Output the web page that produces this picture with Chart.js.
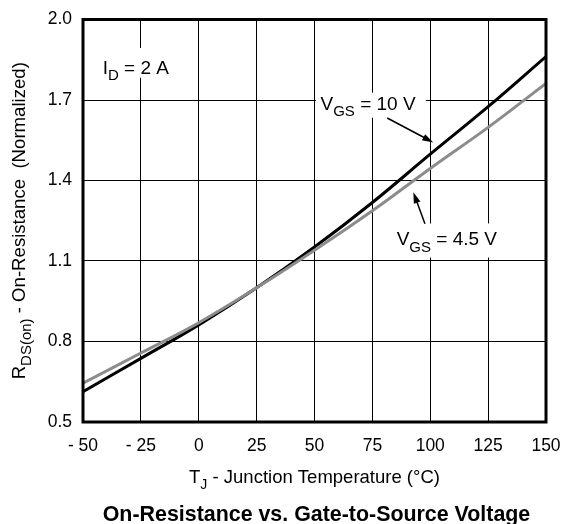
<!DOCTYPE html>
<html><head><meta charset="utf-8">
<script src="https://cdn.jsdelivr.net/npm/chart.js@4"></script>
<style>html,body{margin:0;padding:0;background:#fff}#wrap{width:564px;height:524px}</style>
</head><body><div id="wrap"><canvas id="c" width="564" height="524"></canvas></div>
<script>
// ---- data ----
const temps = [-50, -25, 0, 25, 50, 75, 100, 125, 150];
const rdsVgs10 = [0.613, 0.737, 0.862, 1.000, 1.152, 1.318, 1.498, 1.675, 1.862];
const rdsVgs45 = [0.645, 0.757, 0.870, 1.000, 1.140, 1.287, 1.445, 1.598, 1.762];
const xTickLabels = ['- 50', '- 25', '0', '25', '50', '75', '100', '125', '150'];
const yTickLabels = ['0.5', '0.8', '1.1', '1.4', '1.7', '2.0'];
const seriesNames = ['VGS = 10 V', 'VGS = 4.5 V'];

const FONT = '"Liberation Sans", Arial, sans-serif';

function drawRich(ctx, parts, x, y, size, align) {
  let w = 0;
  const subSize = Math.round(size * 0.78);
  parts.forEach(p => {
    ctx.font = (p.sub ? subSize : size) + 'px ' + FONT;
    p.w = ctx.measureText(p.t).width; w += p.w;
  });
  let cx = align === 'center' ? x - w / 2 : x;
  ctx.textBaseline = 'alphabetic';
  ctx.textAlign = 'left';
  parts.forEach(p => {
    ctx.font = (p.sub ? subSize : size) + 'px ' + FONT;
    ctx.fillText(p.t, cx, y + (p.sub ? size * 0.32 : 0));
    cx += p.w;
  });
  return w;
}

const annot = {
  id: 'annot',
  beforeDatasetsDraw(chart) {
    const {ctx, scales: {x, y}} = chart;
    ctx.save();
    ctx.fillStyle = '#fff';
    const boxes = [[-44, -12, 1.894, 1.783], [50.6, 98.1, 1.727, 1.634], [84.8, 128, 1.240, 1.113]];
    boxes.forEach(b => {
      const x0 = x.getPixelForValue(b[0]), x1 = x.getPixelForValue(b[1]);
      const y0 = y.getPixelForValue(b[2]), y1 = y.getPixelForValue(b[3]);
      ctx.fillRect(x0, y0, x1 - x0, y1 - y0);
    });
    ctx.restore();
  },
  afterDatasetsDraw(chart) {
    const {ctx, chartArea: a, scales: {x, y}} = chart;
    ctx.save();
    ctx.fillStyle = '#000';
    ctx.strokeStyle = '#000';
    drawRich(ctx, [{t: 'I'}, {t: 'D', sub: true}, {t: ' = 2 A'}], x.getPixelForValue(-41.5), y.getPixelForValue(1.798), 19, 'left');
    drawRich(ctx, [{t: 'V'}, {t: 'GS', sub: true}, {t: ' = 10 V'}], x.getPixelForValue(52.6), y.getPixelForValue(1.664), 19, 'left');
    drawRich(ctx, [{t: 'V'}, {t: 'GS', sub: true}, {t: ' = 4.5 V'}], x.getPixelForValue(85.5), y.getPixelForValue(1.158), 19, 'left');
    function arrow(t0, v0, t1, v1) {
      const x0 = x.getPixelForValue(t0), y0 = y.getPixelForValue(v0);
      const x1 = x.getPixelForValue(t1), y1 = y.getPixelForValue(v1);
      const ang = Math.atan2(y1 - y0, x1 - x0);
      const L = 11, W = 3.5;
      ctx.lineWidth = 1.5;
      ctx.beginPath(); ctx.moveTo(x0, y0);
      ctx.lineTo(x1 - Math.cos(ang) * L * 0.8, y1 - Math.sin(ang) * L * 0.8); ctx.stroke();
      ctx.beginPath();
      ctx.moveTo(x1, y1);
      ctx.lineTo(x1 - Math.cos(ang) * L - Math.sin(ang) * W, y1 - Math.sin(ang) * L + Math.cos(ang) * W);
      ctx.lineTo(x1 - Math.cos(ang) * L + Math.sin(ang) * W, y1 - Math.sin(ang) * L - Math.cos(ang) * W);
      ctx.closePath(); ctx.fill();
    }
    arrow(81.4, 1.633, 101.3, 1.542);
    arrow(97.7, 1.239, 92.7, 1.356);
    ctx.lineWidth = 3;
    ctx.strokeRect(a.left, a.top, a.right - a.left, a.bottom - a.top);
    const cxm = (a.left + a.right) / 2;
    drawRich(ctx, [{t: 'T'}, {t: 'J', sub: true}, {t: ' - Junction Temperature (°C)'}], cxm, 483, 18.5, 'center');
    ctx.save();
    ctx.translate(25, (a.top + a.bottom) / 2);
    ctx.rotate(-Math.PI / 2);
    drawRich(ctx, [{t: 'R'}, {t: 'DS(on)', sub: true}, {t: ' - On-Resistance  (Normalized)'}], 0, 0, 18.6, 'center');
    ctx.restore();
    ctx.font = 'bold 21.4px ' + FONT;
    ctx.textAlign = 'center';
    ctx.textBaseline = 'alphabetic';
    ctx.fillText('On-Resistance vs. Gate-to-Source Voltage', cxm + 2, 520.5);
    ctx.restore();
  }
};

new Chart(document.getElementById('c'), {
  type: 'line',
  data: {
    datasets: [
      {label: seriesNames[0], data: temps.map((t, i) => ({x: t, y: rdsVgs10[i]})), borderColor: '#000', borderWidth: 3, pointRadius: 0, tension: 0.4},
      {label: seriesNames[1], data: temps.map((t, i) => ({x: t, y: rdsVgs45[i]})), borderColor: '#8c8c8c', borderWidth: 3, pointRadius: 0, tension: 0.4}
    ].reverse()
  },
  options: {
    responsive: false,
    animation: false,
    devicePixelRatio: 1,
    layout: {padding: {left: 0, right: 18, top: 19.5, bottom: 0}},
    plugins: {legend: {display: false}, tooltip: {enabled: false}, title: {display: false}},
    scales: {
      x: {
        type: 'linear', min: -50, max: 150,
        afterBuildTicks: s => { s.ticks = temps.map(v => ({value: v})); },
        ticks: {callback: (v, i) => xTickLabels[i], color: '#000', font: {family: FONT, size: 17.5}, padding: 14, maxRotation: 0},
        grid: {color: '#000', lineWidth: 1, drawTicks: false},
        border: {display: false},
        afterFit: s => { s.height = 102; s.paddingLeft = 0; s.paddingRight = 0; }
      },
      y: {
        type: 'linear', min: 0.5, max: 2.0,
        afterBuildTicks: s => { s.ticks = yTickLabels.map(v => ({value: parseFloat(v)})); },
        ticks: {callback: (v, i) => yTickLabels[i], color: '#000', font: {family: FONT, size: 17.5}, padding: 11},
        grid: {color: '#000', lineWidth: 1, drawTicks: false},
        border: {display: false},
        afterFit: s => { s.width = 83; s.paddingTop = 0; s.paddingBottom = 0; }
      }
    }
  },
  plugins: [annot]
});
</script>
</body></html>
